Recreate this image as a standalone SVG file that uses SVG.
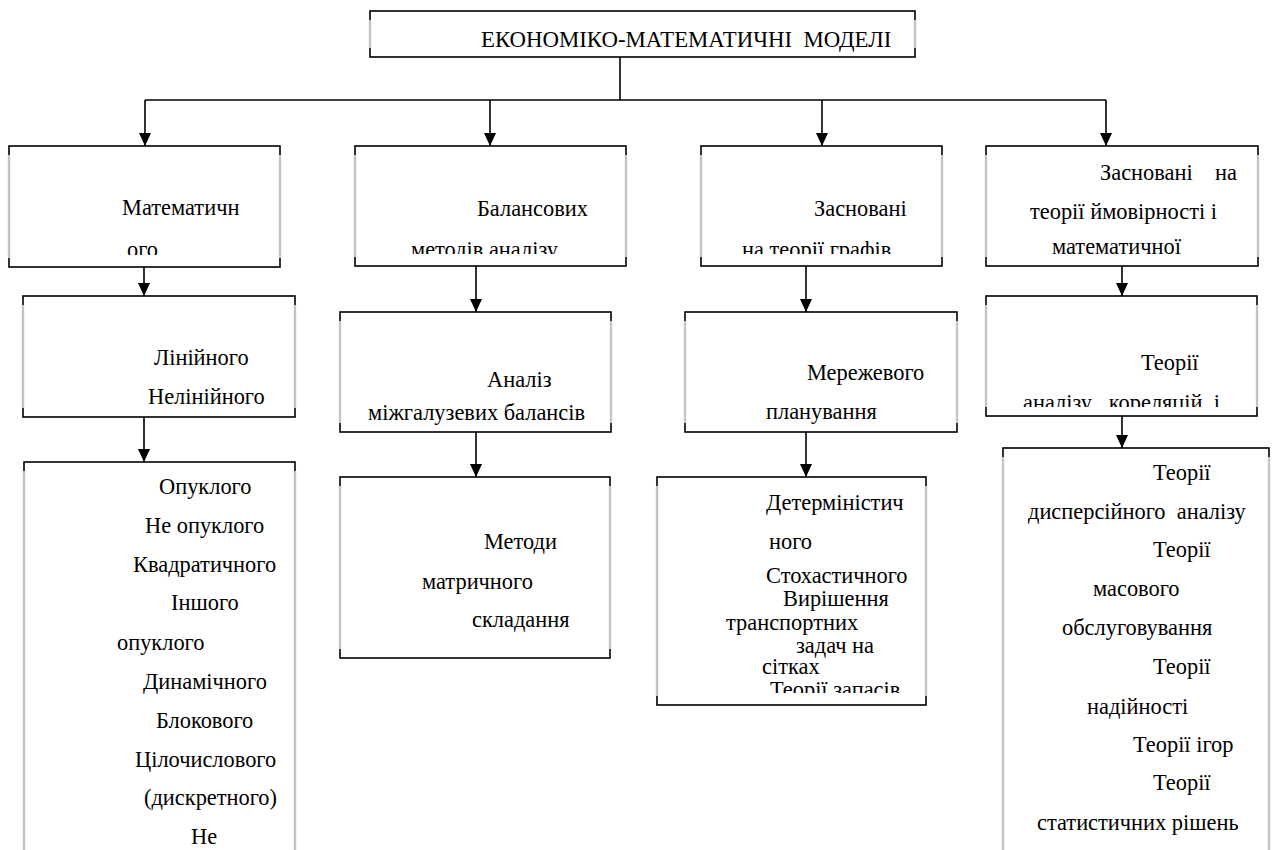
<svg xmlns="http://www.w3.org/2000/svg" width="1272" height="850" viewBox="0 0 1272 850">
<style>
.box{fill:#fff;stroke:#000;stroke-width:1.6}
.sh{stroke:#c4c4c4;stroke-width:2.4}
.t{font-family:"Liberation Serif","Times New Roman","DejaVu Serif",serif;font-size:22.4px;fill:#000}
.title{font-size:22.8px}
.c{stroke:#000;stroke-width:1.6;fill:none}
</style>
<defs>
<marker id="ah" markerUnits="userSpaceOnUse" markerWidth="13" markerHeight="13" refX="13" refY="6.5" orient="auto" viewBox="0 0 13 13">
<path d="M0,0.5 L13,6.5 L0,12.5 Z" fill="#000"/>
</marker>
<clipPath id="cA1"><rect x="9" y="146" width="271" height="109"/></clipPath>
<clipPath id="cB1"><rect x="355" y="146" width="271" height="108"/></clipPath>
<clipPath id="cC1"><rect x="701" y="146" width="241" height="108"/></clipPath>
<clipPath id="cD2"><rect x="986" y="296" width="271" height="111"/></clipPath>
<clipPath id="cC3"><rect x="657" y="477" width="269" height="216"/></clipPath>
</defs>
<rect width="1272" height="850" fill="#fff"/>

<g id="connectors">
<path class="c" d="M620,57 V100 M145,100 H1106"/>
<path class="c" d="M145,100 V146" marker-end="url(#ah)"/>
<path class="c" d="M490,100 V146" marker-end="url(#ah)"/>
<path class="c" d="M822,100 V146" marker-end="url(#ah)"/>
<path class="c" d="M1106,100 V146" marker-end="url(#ah)"/>
<path class="c" d="M144,267 V296" marker-end="url(#ah)"/>
<path class="c" d="M144,417 V462" marker-end="url(#ah)"/>
<path class="c" d="M476,266 V312" marker-end="url(#ah)"/>
<path class="c" d="M476,432 V477" marker-end="url(#ah)"/>
<path class="c" d="M806,266 V312" marker-end="url(#ah)"/>
<path class="c" d="M806,432 V477" marker-end="url(#ah)"/>
<path class="c" d="M1122,266 V296" marker-end="url(#ah)"/>
<path class="c" d="M1122,416 V448" marker-end="url(#ah)"/>
</g>

<g id="root">
<rect class="box" x="370" y="11" width="545" height="46"/>
<path class="sh" d="M370,20 V48 M915,20 V48"/>
<text class="t title" x="481" y="47" xml:space="preserve">ЕКОНОМІКО-МАТЕМАТИЧНІ  МОДЕЛІ</text>
</g>

<g id="math-prog">
<rect class="box" x="9" y="146" width="271" height="121"/>
<path class="sh" d="M9,155 V258 M280,155 V258"/>
<g clip-path="url(#cA1)">
<text class="t" x="122" y="215">Математичн</text>
<text class="t" x="127" y="257">ого</text>
</g>
</g>

<g id="balance">
<rect class="box" x="355" y="146" width="271" height="120"/>
<path class="sh" d="M355,155 V257 M626,155 V257"/>
<g clip-path="url(#cB1)">
<text class="t" x="477" y="216">Балансових</text>
<text class="t" x="411" y="257">методів аналізу</text>
</g>
</g>

<g id="graphs">
<rect class="box" x="701" y="146" width="241" height="120"/>
<path class="sh" d="M701,155 V257 M942,155 V257"/>
<g clip-path="url(#cC1)">
<text class="t" x="814" y="216">Засновані</text>
<text class="t" x="742" y="257">на теорії графів</text>
</g>
</g>

<g id="probability">
<rect class="box" x="986" y="146" width="272" height="120"/>
<path class="sh" d="M986,155 V257 M1258,155 V257"/>
<text class="t" x="1100" y="180" xml:space="preserve">Засновані    на</text>
<text class="t" x="1030" y="219">теорії ймовірності і</text>
<text class="t" x="1052" y="254">математичної</text>
</g>

<g id="linear">
<rect class="box" x="23" y="296" width="272" height="121"/>
<path class="sh" d="M23,305 V408 M295,305 V408"/>
<text class="t" x="154" y="365">Лінійного</text>
<text class="t" x="148" y="404">Нелінійного</text>
</g>

<g id="interbranch">
<rect class="box" x="340" y="312" width="271" height="120"/>
<path class="sh" d="M340,321 V423 M611,321 V423"/>
<text class="t" x="487" y="387">Аналіз</text>
<text class="t" x="368" y="420">міжгалузевих балансів</text>
</g>

<g id="network">
<rect class="box" x="685" y="312" width="272" height="120"/>
<path class="sh" d="M685,321 V423 M957,321 V423"/>
<text class="t" x="807" y="380">Мережевого</text>
<text class="t" x="766" y="419">планування</text>
</g>

<g id="correlation">
<rect class="box" x="986" y="296" width="271" height="120"/>
<path class="sh" d="M986,305 V407 M1257,305 V407"/>
<g clip-path="url(#cD2)">
<text class="t" x="1141" y="370">Теорії</text>
<text class="t" x="1023" y="410" xml:space="preserve">аналізу   кореляцій  і</text>
</g>
</g>

<g id="convex">
<rect class="box" x="24" y="462" width="271" height="400"/>
<path class="sh" d="M24,471 V850 M295,471 V850"/>
<text class="t" x="159" y="494">Опуклого</text>
<text class="t" x="145" y="533">Не опуклого</text>
<text class="t" x="133" y="572">Квадратичного</text>
<text class="t" x="171" y="610">Іншого</text>
<text class="t" x="117" y="650">опуклого</text>
<text class="t" x="143" y="689">Динамічного</text>
<text class="t" x="156" y="728">Блокового</text>
<text class="t" x="135" y="767">Цілочислового</text>
<text class="t" x="144" y="805">(дискретного)</text>
<text class="t" x="191" y="844">Не</text>
</g>

<g id="matrix">
<rect class="box" x="340" y="477" width="270" height="181"/>
<path class="sh" d="M340,486 V649 M610,486 V649"/>
<text class="t" x="484" y="549">Методи</text>
<text class="t" x="422" y="589">матричного</text>
<text class="t" x="472" y="627">складання</text>
</g>

<g id="deterministic">
<rect class="box" x="657" y="477" width="269" height="228"/>
<path class="sh" d="M657,486 V696 M926,486 V696"/>
<g clip-path="url(#cC3)">
<text class="t" x="766" y="510">Детерміністич</text>
<text class="t" x="769" y="549">ного</text>
<text class="t" x="766" y="583">Стохастичного</text>
<text class="t" x="783" y="606">Вирішення</text>
<text class="t" x="726" y="630">транспортних</text>
<text class="t" x="796" y="653">задач на</text>
<text class="t" x="762" y="674">сітках</text>
<text class="t" x="770" y="697">Теорії запасів</text>
</g>
</g>

<g id="theories">
<rect class="box" x="1003" y="448" width="266" height="420"/>
<path class="sh" d="M1003,457 V850 M1269,457 V850"/>
<text class="t" x="1153" y="480">Теорії</text>
<text class="t" x="1028" y="519" xml:space="preserve">дисперсійного  аналізу</text>
<text class="t" x="1153" y="557">Теорії</text>
<text class="t" x="1093" y="596">масового</text>
<text class="t" x="1062" y="635">обслуговування</text>
<text class="t" x="1153" y="674">Теорії</text>
<text class="t" x="1087" y="714">надійності</text>
<text class="t" x="1133" y="752">Теорії ігор</text>
<text class="t" x="1153" y="790">Теорії</text>
<text class="t" x="1037" y="830">статистичних рішень</text>
</g>
</svg>
